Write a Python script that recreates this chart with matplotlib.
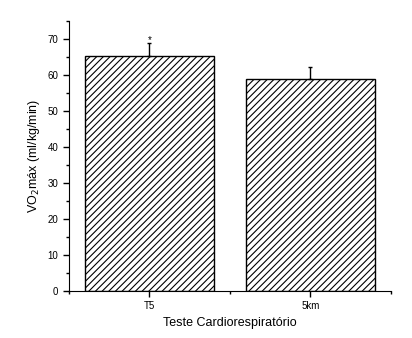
import matplotlib
matplotlib.use("Agg")
import matplotlib.pyplot as plt
from matplotlib.ticker import MultipleLocator

plt.rcParams['font.family'] = ['Liberation Sans', 'DejaVu Sans']
plt.rcParams['hatch.linewidth'] = 0.8

# data
categories = ["T5", "5km"]
vo2max = [65.2, 58.9]
err_up = [3.7, 3.2]
marks = ["*", ""]

fig = plt.figure(figsize=(4.12, 3.38), dpi=100)
ax = fig.add_axes([0.167, 0.14, 0.782, 0.799])

pos = [1, 2]
ax.bar(pos, vo2max, width=0.8, color='white', edgecolor='black',
       linewidth=1.0, hatch='/////', zorder=2)
ax.errorbar(pos, vo2max, yerr=[[0, 0], err_up], fmt='none', ecolor='black',
            elinewidth=1.0, capsize=1.7, capthick=1.0, zorder=3)
for x, y, e, m in zip(pos, vo2max, err_up, marks):
    if m:
        ax.text(x, y + e - 0.6, m, ha='center', va='bottom', fontsize=7)

ax.set_xlim(0.5, 2.5)
ax.set_ylim(0, 75)
ax.set_xticks(pos)
ax.set_xticklabels(categories, fontsize=7)
ax.xaxis.set_minor_locator(MultipleLocator(0.5))
ax.yaxis.set_major_locator(MultipleLocator(10))
ax.yaxis.set_minor_locator(MultipleLocator(5))
ax.tick_params(axis='y', labelsize=7)
ax.tick_params(which='major', length=4, width=1)
ax.tick_params(which='minor', length=2.5, width=1)

ax.spines['right'].set_visible(False)
ax.spines['top'].set_visible(False)

ax.set_xlabel("Teste Cardiorespiratório", fontsize=9)
ax.set_ylabel("VO$_2$máx (ml/kg/min)", fontsize=9)

fig.savefig("out.png", dpi=100)
